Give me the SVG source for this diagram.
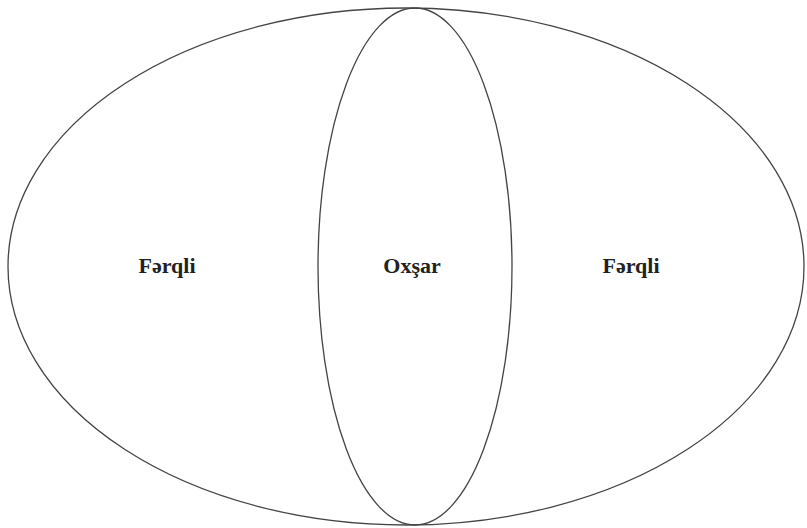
<svg xmlns="http://www.w3.org/2000/svg" width="807" height="528" viewBox="0 0 807 528">
<style>
.sh{fill:none;stroke:#444;stroke-width:1.3}
.t{font-family:"Liberation Serif",serif;font-weight:bold;font-size:22px;fill:#222;text-anchor:middle}
</style>
<rect width="807" height="528" fill="#fff"/>
<g id="outer"><ellipse class="sh" cx="406" cy="266.5" rx="398" ry="258.5"/></g>
<g id="inner"><ellipse class="sh" cx="415" cy="266.5" rx="97" ry="258.5"/></g>
<g id="connectors"></g>
<g id="left"><text class="t" x="167" y="273">Fərqli</text></g>
<g id="middle"><text class="t" x="412" y="273">Oxşar</text></g>
<g id="right"><text class="t" x="631" y="273">Fərqli</text></g>
</svg>
